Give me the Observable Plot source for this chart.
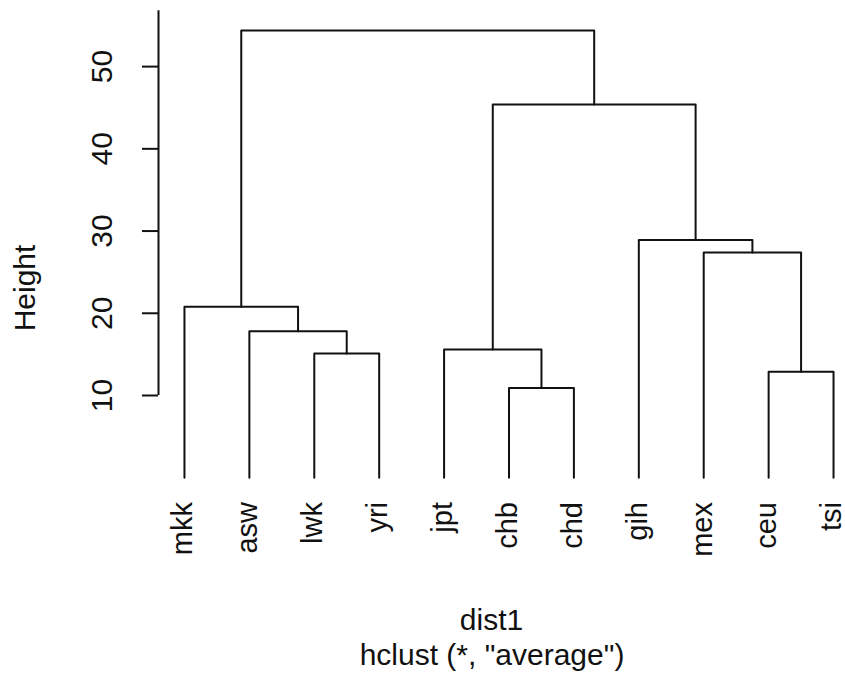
<!DOCTYPE html>
<html>
<head>
<meta charset="utf-8">
<script src="https://cdn.jsdelivr.net/npm/d3@7"></script>
<script src="https://cdn.jsdelivr.net/npm/@observablehq/plot@0.6"></script>
<style>
  html, body { margin: 0; padding: 0; background: white; }
</style>
</head>
<body>
<div id="chart"></div>
<script>
// Leaves in dendrogram order
const leaves = ["mkk", "asw", "lwk", "yri", "jpt", "chb", "chd", "gih", "mex", "ceu", "tsi"];
// Merge table (R hclust convention: negative = leaf number, positive = earlier merge)
const mergeA = [-3, -2, -1, -6, -5, -10, -9, -8, 5, 3];
const mergeB = [-4, 1, 2, -7, 4, -11, 6, 7, 8, 9];
const mergeHeight = [15.1, 17.8, 20.8, 10.9, 15.6, 12.9, 27.4, 28.9, 45.4, 54.4];
const yTicks = [10, 20, 30, 40, 50];

// Build node positions (leaf index and merge midpoints)
const nodes = [];
function pos(ref) {
  if (ref < 0) return {x: -ref, h: 0};
  return nodes[ref - 1];
}
const paths = [];
mergeA.forEach((a, k) => {
  const pa = pos(a), pb = pos(mergeB[k]), h = mergeHeight[k];
  nodes.push({x: (pa.x + pb.x) / 2, h});
  paths.push({id: k, x: pa.x, y: pa.h});
  paths.push({id: k, x: pa.x, y: h});
  paths.push({id: k, x: pb.x, y: h});
  paths.push({id: k, x: pb.x, y: pb.h});
});

const FS = 30;
const chart = Plot.plot({
  width: 845,
  height: 679,
  marginLeft: 158,
  marginRight: 0,
  marginTop: 10,
  marginBottom: 184,
  x: {domain: [0.6, 11.4], range: [158, 859], axis: null},
  y: {domain: [-2.2, 56.8], range: [495.3, 10.2], axis: null},
  style: {fontFamily: "'Liberation Sans', Arial, sans-serif", background: "white", color: "black"},
  marks: [
    // y axis line (from first tick to top of plot region)
    Plot.ruleX([0.6], {x: d => d, y1: yTicks[0], y2: 56.8, stroke: "#111", strokeWidth: 2}),
    Plot.axisY(yTicks, {anchor: "left", tickSize: 16, tickFormat: () => "", label: null, stroke: "#111", strokeWidth: 2}),
    Plot.text(yTicks, {y: d => d, frameAnchor: "left", dx: -56.5, text: d => String(d), rotate: -90,
      textAnchor: "middle", lineAnchor: "middle", fontSize: FS, fill: "#111"}),
    // dendrogram branches
    Plot.line(paths, {x: "x", y: "y", z: "id", stroke: "#111", strokeWidth: 2, curve: "linear"}),
    // leaf labels
    Plot.text(leaves, {x: (d, i) => i + 1, frameAnchor: "bottom", dy: 6.5, dx: -1.5, text: d => d, rotate: -90,
      textAnchor: "end", lineAnchor: "middle", fontSize: 29, fill: "#111"}),
    // axis title
    Plot.text(["Height"], {frameAnchor: "left", dx: -133, dy: 35, text: d => d, rotate: -90,
      textAnchor: "middle", lineAnchor: "middle", fontSize: FS, fill: "#111"}),
    // x label and sub
    Plot.text(["dist1"], {frameAnchor: "bottom", dx: -10.5, dy: 125, text: d => d,
      textAnchor: "middle", lineAnchor: "middle", fontSize: FS, fill: "#111"}),
    Plot.text(['hclust (*, "average")'], {frameAnchor: "bottom", dx: -10, dy: 160, text: d => d,
      textAnchor: "middle", lineAnchor: "middle", fontSize: FS, fill: "#111"})
  ]
});
document.getElementById("chart").appendChild(chart);
</script>
</body>
</html>
